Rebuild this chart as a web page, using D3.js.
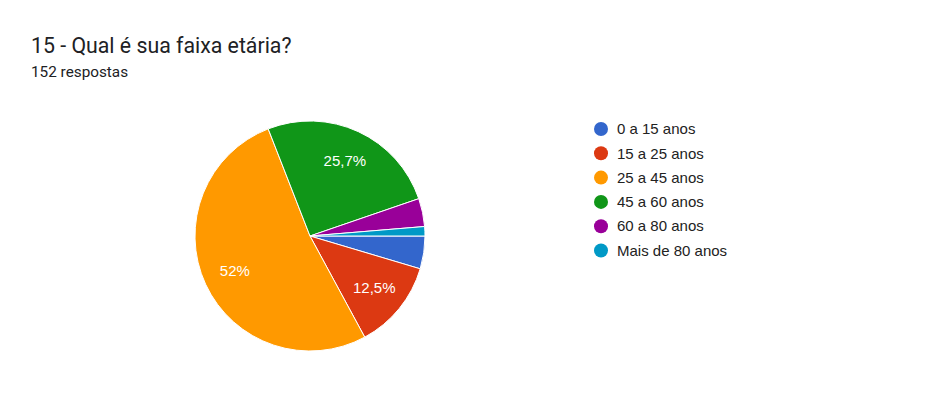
<!DOCTYPE html>
<html>
<head>
<meta charset="utf-8">
<script src="https://cdn.jsdelivr.net/npm/d3@7"></script>
<style>
  body { margin: 0; background: #fff; }
  text { font-family: Roboto, Arial, sans-serif; }
  .lbl, .row text { font-family: "Liberation Sans", Arial, sans-serif; }
</style>
</head>
<body>
<div id="chart"></div>
<script>
// answers per age band (152 in total)
var categories = ["0 a 15 anos", "15 a 25 anos", "25 a 45 anos", "45 a 60 anos", "60 a 80 anos", "Mais de 80 anos"];
var counts = [7, 19, 79, 39, 6, 2];
var sliceLabels = ["", "12,5%", "52%", "25,7%", "", ""];
var colors = ["#3366cc", "#dc3912", "#ff9900", "#109618", "#990099", "#0099c6"];

var width = 939, height = 395;
var cx = 310, cy = 236, radius = 115;

var svg = d3.select("#chart")
  .append("svg")
    .attr("width", width)
    .attr("height", height);

// title
svg.append("text")
    .attr("x", 31)
    .attr("y", 53)
    .style("font-size", "21.3px")
    .style("fill", "#202124")
    .text("15 - Qual é sua faixa etária?");

svg.append("text")
    .attr("x", 31)
    .attr("y", 77)
    .style("font-size", "15.3px")
    .style("fill", "#202124")
    .text("152 respostas");

// pie starts at 3 o'clock and goes clockwise
var pie = d3.pie()
    .sort(null)
    .startAngle(Math.PI / 2)
    .endAngle(Math.PI / 2 + 2 * Math.PI)
    .value(function(d) { return d; });

var arc = d3.arc().innerRadius(0).outerRadius(radius);
var labelArc = d3.arc().innerRadius(radius * 0.72).outerRadius(radius * 0.72);

var g = svg.append("g")
    .attr("transform", "translate(" + cx + "," + cy + ")");

var arcs = pie(counts);

g.selectAll(".slice")
    .data(arcs)
    .enter().append("path")
    .attr("class", "slice")
    .attr("d", arc)
    .attr("fill", function(d, i) { return colors[i]; })
    .attr("stroke", "#fff")
    .attr("stroke-width", 1);

g.selectAll(".lbl")
    .data(arcs)
    .enter().append("text")
    .attr("class", "lbl")
    .attr("transform", function(d) { return "translate(" + labelArc.centroid(d) + ")"; })
    .attr("text-anchor", "middle")
    .attr("dy", "0.35em")
    .style("font-size", "15px")
    .style("fill", "#fff")
    .text(function(d, i) { return sliceLabels[i]; });

// legend
var legend = svg.append("g")
    .attr("transform", "translate(601,129)");

var rows = legend.selectAll(".row")
    .data(categories)
    .enter().append("g")
    .attr("class", "row")
    .attr("transform", function(d, i) { return "translate(0," + (i * 24.3) + ")"; });

rows.append("circle")
    .attr("r", 7)
    .attr("fill", function(d, i) { return colors[i]; });

rows.append("text")
    .attr("x", 16)
    .attr("dy", "0.35em")
    .style("font-size", "15px")
    .style("fill", "#222")
    .text(function(d) { return d; });
</script>
</body>
</html>
